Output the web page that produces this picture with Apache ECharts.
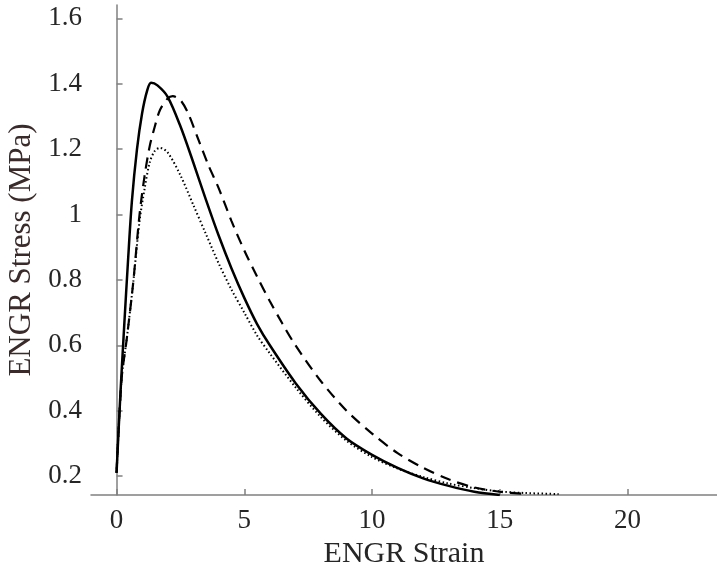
<!DOCTYPE html>
<html>
<head>
<meta charset="utf-8">
<script src="https://cdn.jsdelivr.net/npm/echarts@6/dist/echarts.min.js"></script>
<style>html,body{margin:0;padding:0;background:#fff}#c{width:717px;height:571px}</style>
</head>
<body>
<div id="c"></div>
<script>
// Solid curve (strain, stress)
const solidX = [0, 0.15, 0.3, 0.45, 0.6, 0.8, 1.0, 1.2, 1.35, 1.6, 2.0, 2.5, 3.0, 3.5, 4.0, 4.5, 5.0, 5.5, 6.0, 7.0, 8.0, 9.0, 10.0, 11.0, 12.0, 13.0, 14.0, 15.0];
const solidY = [0.21, 0.45, 0.66, 0.86, 1.04, 1.2, 1.31, 1.38, 1.403, 1.395, 1.36, 1.27, 1.16, 1.045, 0.935, 0.835, 0.745, 0.665, 0.6, 0.485, 0.39, 0.315, 0.265, 0.225, 0.193, 0.17, 0.152, 0.142];
// Dashed curve
const dashX = [0, 0.2, 0.4, 0.65, 0.9, 1.1, 1.3, 1.5, 1.7, 2.0, 2.2, 2.5, 2.8, 3.2, 3.6, 4.0, 4.5, 5.0, 5.5, 6.0, 6.5, 7.0, 8.0, 9.0, 10.0, 11.0, 12.0, 13.0, 14.0, 15.0, 16.0];
const dashY = [0.21, 0.5, 0.62, 0.79, 1.0, 1.12, 1.21, 1.27, 1.32, 1.355, 1.362, 1.35, 1.31, 1.23, 1.15, 1.08, 0.98, 0.89, 0.81, 0.735, 0.665, 0.6, 0.49, 0.4, 0.33, 0.27, 0.225, 0.19, 0.165, 0.152, 0.145];
// Dotted curve
const dotX = [0, 0.2, 0.4, 0.65, 0.9, 1.1, 1.3, 1.5, 1.7, 2.0, 2.5, 3.0, 3.5, 4.0, 4.5, 5.0, 5.5, 6.0, 7.0, 8.0, 9.0, 10.0, 11.0, 12.0, 13.0, 14.0, 15.0, 16.0, 17.3];
const dotY = [0.21, 0.5, 0.62, 0.79, 0.98, 1.08, 1.16, 1.195, 1.204, 1.19, 1.12, 1.03, 0.94, 0.85, 0.77, 0.7, 0.63, 0.575, 0.472, 0.38, 0.308, 0.258, 0.223, 0.197, 0.177, 0.163, 0.153, 0.148, 0.145];
// Tick labels
const xTicks = [0, 5, 10, 15, 20];
const yTicks = [0.2, 0.4, 0.6, 0.8, 1, 1.2, 1.4, 1.6];

const pairs = (xs, ys) => xs.map((x, i) => [x, ys[i]]);
const font = 'Liberation Serif';
const chart = echarts.init(document.getElementById('c'), null, {renderer: 'canvas'});
const lineS = (data, type, width) => ({
  type: 'line', data, showSymbol: false, symbol: 'none', smooth: 0.3, animation: false,
  lineStyle: {color: '#000', width, type}
});
chart.setOption({
  animation: false,
  grid: {left: 91, right: 0, top: 5, bottom: 76, containLabel: false, outerBoundsMode: 'none'},
  xAxis: {
    type: 'value', min: -1, max: 23.5,
    name: 'ENGR Strain', nameLocation: 'middle', nameGap: 43,
    nameTextStyle: {fontFamily: font, fontSize: 30, color: '#262626'},
    axisLine: {show: true, lineStyle: {color: '#808080', width: 1.5}},
    axisTick: {show: true, inside: true, length: 6, customValues: xTicks, lineStyle: {color: '#808080', width: 1.5}},
    axisLabel: {customValues: xTicks, fontFamily: font, fontSize: 27, color: '#262626', margin: 12},
    splitLine: {show: false}
  },
  yAxis: {
    type: 'value', min: 0.142, max: 1.641,
    name: 'ENGR Stress (MPa)', nameLocation: 'middle', nameGap: 51,
    nameTextStyle: {fontFamily: font, fontSize: 31, color: '#3a2a2a'},
    axisLine: {show: true, lineStyle: {color: '#808080', width: 1.5}},
    axisTick: {show: true, inside: true, length: 6, customValues: yTicks, lineStyle: {color: '#808080', width: 1.5}},
    axisLabel: {customValues: yTicks, fontFamily: font, fontSize: 27, color: '#262626', margin: 9,
      formatter: v => String(Math.round(v * 10) / 10)},
    splitLine: {show: false}
  },
  series: [
    lineS(pairs(dotX, dotY), [1.5, 2.5], 2),
    lineS(pairs(dashX, dashY), [11, 7], 2.2),
    lineS(pairs(solidX, solidY), 'solid', 2.5)
  ]
});
</script>
</body>
</html>
